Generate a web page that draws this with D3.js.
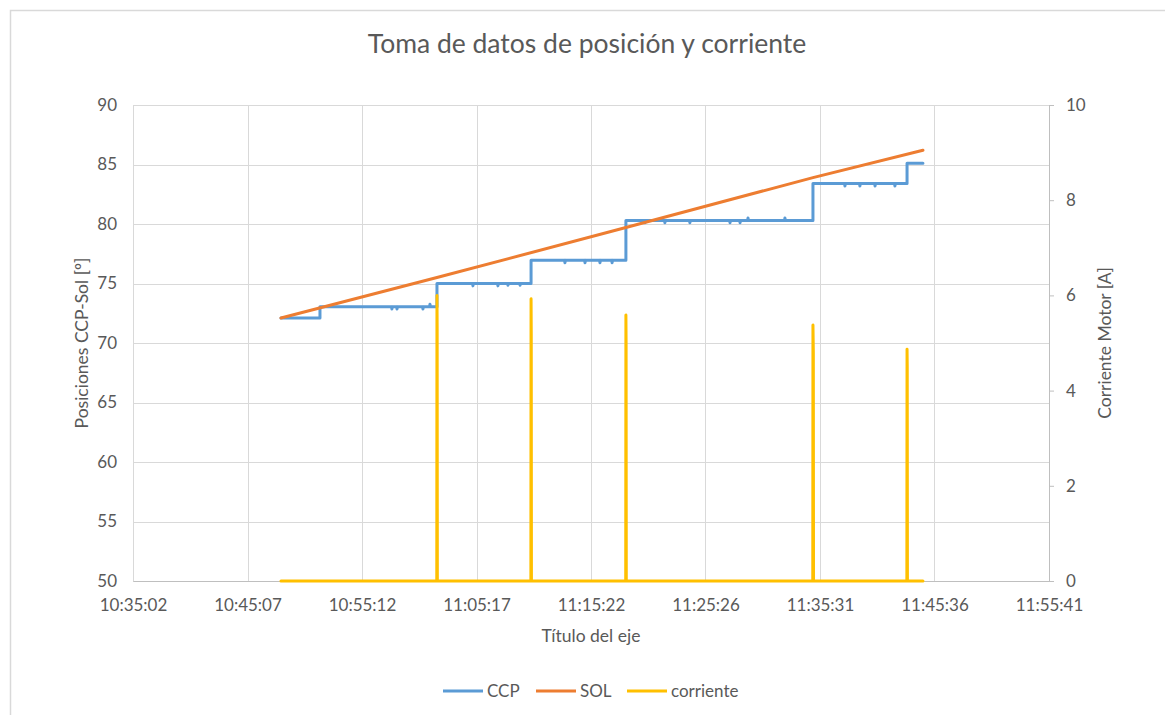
<!DOCTYPE html>
<html>
<head>
<meta charset="utf-8">
<script src="https://cdn.jsdelivr.net/npm/d3@7/dist/d3.min.js"></script>
<style>
  html, body { margin: 0; padding: 0; background: #fff; }
  text { font-family: Lato, "Open Sans", sans-serif; fill: #595959; }
</style>
</head>
<body>
<svg id="chart" width="1165" height="715"></svg>
<script>
// ---- data ----
const chartTitle = "Toma de datos de posición y corriente";
const xTitle = "Título del eje";
const yLeftTitle = "Posiciones CCP-Sol [º]";
const yRightTitle = "Corriente Motor [A]";

// x axis bounds and ticks (time of day)
const xMin = "10:35:02.4";
const xMax = "11:55:40.8";
const xTickLabels = ["10:35:02", "10:45:07", "10:55:12", "11:05:17", "11:15:22",
                     "11:25:26", "11:35:31", "11:45:36", "11:55:41"];
const yLeftTicks = [50, 55, 60, 65, 70, 75, 80, 85, 90];
const yRightTicks = [0, 2, 4, 6, 8, 10];

// CCP measured position (step profile with small reading glitches)
const ccpTime = [
  "10:48:04", "10:51:30", "10:51:30",
  "10:57:48", "10:57:50", "10:57:52", "10:58:15", "10:58:17", "10:58:19",
  "11:00:32", "11:00:34", "11:00:36", "11:01:09", "11:01:11", "11:01:13",
  "11:01:48", "11:01:48",
  "11:04:56", "11:04:58", "11:05:00", "11:07:08", "11:07:10", "11:07:12",
  "11:08:01", "11:08:03", "11:08:05", "11:09:05", "11:09:07", "11:09:09",
  "11:10:05", "11:10:05",
  "11:13:02", "11:13:04", "11:13:06", "11:14:48", "11:14:50", "11:14:52",
  "11:16:07", "11:16:09", "11:16:11", "11:17:11", "11:17:13", "11:17:15",
  "11:18:26", "11:18:26",
  "11:20:05", "11:20:07", "11:20:09", "11:21:50", "11:21:52", "11:21:54",
  "11:24:02", "11:24:04", "11:24:06", "11:27:34", "11:27:36", "11:27:38",
  "11:28:27", "11:28:29", "11:28:31", "11:29:09", "11:29:11", "11:29:13",
  "11:32:24", "11:32:26", "11:32:28",
  "11:34:54", "11:34:54",
  "11:37:41", "11:37:43", "11:37:45", "11:39:00", "11:39:02", "11:39:04",
  "11:40:20", "11:40:22", "11:40:24", "11:42:05", "11:42:07", "11:42:09",
  "11:43:11", "11:43:11", "11:44:35"
];
const ccpValue = [
  72.1, 72.1, 73.05,
  73.05, 72.85, 73.05, 73.05, 72.85, 73.05,
  73.05, 72.85, 73.05, 73.05, 73.25, 73.05,
  73.05, 75.0,
  75.0, 74.8, 75.0, 75.0, 74.8, 75.0,
  75.0, 74.85, 75.0, 75.0, 74.85, 75.0,
  75.0, 76.95,
  76.95, 76.75, 76.95, 76.95, 76.75, 76.95,
  76.95, 76.75, 76.95, 76.95, 76.75, 76.95,
  76.95, 80.3,
  80.3, 80.1, 80.3, 80.3, 80.1, 80.3,
  80.3, 80.1, 80.3, 80.3, 80.1, 80.3,
  80.3, 80.1, 80.3, 80.3, 80.5, 80.3,
  80.3, 80.5, 80.3,
  80.3, 83.4,
  83.4, 83.2, 83.4, 83.4, 83.2, 83.4,
  83.4, 83.2, 83.4, 83.4, 83.2, 83.4,
  83.4, 85.1, 85.1
];

// SOL computed position
const solTime = ["10:48:04", "11:01:48", "11:18:26", "11:34:54", "11:44:35"];
const solValue = [72.1, 75.5, 79.7, 83.9, 86.2];

// motor current [A]
const curTime = [
  "10:48:04",
  "11:01:47", "11:01:48", "11:01:49", "11:01:50",
  "11:10:04", "11:10:05", "11:10:06", "11:10:07",
  "11:18:25", "11:18:26", "11:18:27", "11:18:28",
  "11:34:53", "11:34:54", "11:34:56", "11:34:57",
  "11:43:10", "11:43:11", "11:43:12", "11:43:13",
  "11:44:35"
];
const curValue = [
  0,
  0, 6.0, 5.3, 0,
  0, 5.93, 5.2, 0,
  0, 5.59, 5.0, 0,
  0, 5.38, 4.8, 0,
  0, 4.87, 4.5, 0,
  0
];

const colors = { CCP: "#5B9BD5", SOL: "#ED7D31", corriente: "#FFC000" };

// ---- helpers ----
function secs(s) {
  const p = s.split(":").map(Number);
  return p[0] * 3600 + p[1] * 60 + p[2];
}

// ---- layout ----
const svg = d3.select("#chart");
const W = 1165, H = 715;
const plot = { left: 133, right: 1049, top: 105, bottom: 581 };

svg.append("rect").attr("x", 10.5).attr("y", 10.5)
  .attr("width", W + 20).attr("height", H + 20)
  .attr("fill", "#fff").attr("stroke", "#d9d9d9").attr("stroke-width", 1.5);

const x = d3.scaleLinear().domain([secs(xMin), secs(xMax)]).range([plot.left, plot.right]);
const yL = d3.scaleLinear().domain([50, 90]).range([plot.bottom, plot.top]);
const yR = d3.scaleLinear().domain([0, 10]).range([plot.bottom, plot.top]);

const xTickVals = xTickLabels.map((l, i) =>
  secs(xMin) + i * (secs(xMax) - secs(xMin)) / (xTickLabels.length - 1));

// gridlines
const grid = svg.append("g").attr("stroke", "#d9d9d9").attr("stroke-width", 1);
yLeftTicks.forEach(v => {
  grid.append("line").attr("x1", plot.left).attr("x2", plot.right)
    .attr("y1", Math.round(yL(v)) + 0.5).attr("y2", Math.round(yL(v)) + 0.5);
});
xTickVals.forEach(v => {
  grid.append("line").attr("y1", plot.top).attr("y2", plot.bottom)
    .attr("x1", Math.round(x(v)) + 0.5).attr("x2", Math.round(x(v)) + 0.5);
});

// bottom axis (labels only)
const xAxis = d3.axisBottom(x).tickValues(xTickVals)
  .tickFormat((d, i) => xTickLabels[i]).tickSize(0).tickPadding(18);
const gx = svg.append("g").attr("transform", `translate(0,${plot.bottom})`).call(xAxis);
gx.select(".domain").attr("stroke", "#bfbfbf").attr("stroke-width", 1);
gx.selectAll("text").attr("font-size", 17).style("fill", "#595959");

// left axis
const yAxisL = d3.axisLeft(yL).tickValues(yLeftTicks).tickSize(0).tickPadding(16);
const gyl = svg.append("g").attr("transform", `translate(${plot.left},0)`).call(yAxisL);
gyl.select(".domain").remove();
gyl.selectAll("text").attr("font-size", 17).style("fill", "#595959");

// right axis
const yAxisR = d3.axisRight(yR).tickValues(yRightTicks).tickSizeInner(5).tickSizeOuter(0).tickPadding(12);
const gyr = svg.append("g").attr("transform", `translate(${plot.right},0)`).call(yAxisR);
gyr.select(".domain").attr("stroke", "#bfbfbf");
gyr.selectAll(".tick line").attr("stroke", "#bfbfbf");
gyr.selectAll("text").attr("font-size", 17).style("fill", "#595959");

// series
const lineL = d3.line().x(d => x(d[0])).y(d => yL(d[1]));
const lineR = d3.line().x(d => x(d[0])).y(d => yR(d[1]));

const ccp = ccpTime.map((t, i) => [secs(t), ccpValue[i]]);
const sol = solTime.map((t, i) => [secs(t), solValue[i]]);
const cur = curTime.map((t, i) => [secs(t), curValue[i]]);

svg.append("path").datum(ccp).attr("d", lineL)
  .attr("fill", "none").attr("stroke", colors.CCP).attr("stroke-width", 3)
  .attr("stroke-linejoin", "round").attr("stroke-linecap", "round");
svg.append("path").datum(sol).attr("d", lineL)
  .attr("fill", "none").attr("stroke", colors.SOL).attr("stroke-width", 3)
  .attr("stroke-linejoin", "round").attr("stroke-linecap", "round");
svg.append("path").datum(cur).attr("d", lineR)
  .attr("fill", "none").attr("stroke", colors.corriente).attr("stroke-width", 3)
  .attr("stroke-linejoin", "round").attr("stroke-linecap", "round");

// titles
svg.append("text").attr("x", 587).attr("y", 53).attr("text-anchor", "middle")
  .attr("font-size", 26.5).text(chartTitle);
svg.append("text").attr("x", 591).attr("y", 642).attr("text-anchor", "middle")
  .attr("font-size", 17.5).text(xTitle);
svg.append("text").attr("transform", "translate(88,343) rotate(-90)")
  .attr("text-anchor", "middle").attr("font-size", 17.5).text(yLeftTitle);
svg.append("text").attr("transform", "translate(1111,343) rotate(-90)")
  .attr("text-anchor", "middle").attr("font-size", 17.5).text(yRightTitle);

// legend
const legendItems = [
  { name: "CCP", x0: 443 },
  { name: "SOL", x0: 536 },
  { name: "corriente", x0: 627 }
];
const lg = svg.append("g");
legendItems.forEach(it => {
  lg.append("line").attr("x1", it.x0).attr("x2", it.x0 + 40)
    .attr("y1", 691).attr("y2", 691)
    .attr("stroke", colors[it.name]).attr("stroke-width", 3);
  lg.append("text").attr("x", it.x0 + 44).attr("y", 697)
    .attr("font-size", 17).text(it.name);
});
</script>
</body>
</html>
